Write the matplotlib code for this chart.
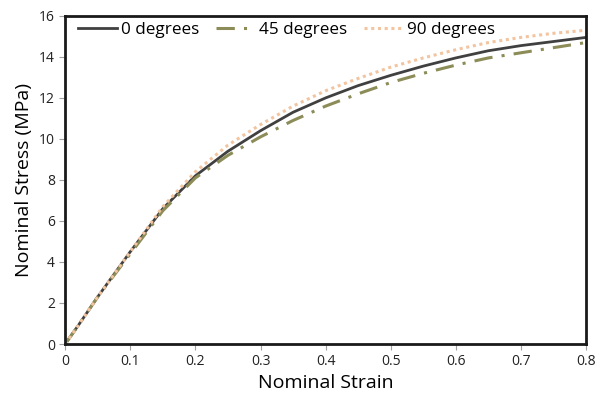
import numpy as np
import matplotlib
matplotlib.use("Agg")
import matplotlib.pyplot as plt

plt.rcParams["font.family"] = ["Open Sans", "DejaVu Sans"]

strain = [0, 0.02, 0.05, 0.1, 0.15, 0.2, 0.25, 0.3, 0.35, 0.4, 0.45,
          0.5, 0.55, 0.6, 0.65, 0.7, 0.75, 0.8]
stress_0 = [0, 0.9, 2.3, 4.5, 6.6, 8.2, 9.4, 10.4, 11.3, 12.0, 12.6,
            13.1, 13.55, 13.95, 14.3, 14.55, 14.75, 14.95]
stress_45 = [0, 0.9, 2.3, 4.4, 6.5, 8.1, 9.2, 10.1, 10.9, 11.6, 12.2,
             12.75, 13.2, 13.6, 13.95, 14.2, 14.45, 14.7]
stress_90 = [0, 0.9, 2.3, 4.5, 6.7, 8.4, 9.7, 10.7, 11.6, 12.35, 12.95,
             13.5, 13.95, 14.35, 14.7, 14.95, 15.15, 15.3]

fig = plt.figure(figsize=(5.98, 3.97), dpi=100)
ax = fig.add_axes([0.109, 0.1335, 0.871, 0.8265])

ax.plot(strain, stress_0, color="#404040", lw=2.0, label="0 degrees")
ax.plot(strain, stress_45, color="#8c8c58", lw=2.2, linestyle=(0, (6, 3, 1, 3)),
        label="45 degrees")
ax.plot(strain, stress_90, color="#f2c4a0", lw=2.2, linestyle=(0, (1, 1.2)),
        label="90 degrees")

ax.set_xlim(0, 0.8)
ax.set_ylim(0, 16)
ax.set_xticks(np.arange(0, 0.81, 0.1))
ax.set_xticklabels(["0", "0.1", "0.2", "0.3", "0.4", "0.5", "0.6", "0.7", "0.8"])
ax.set_yticks(np.arange(0, 17, 2))
ax.tick_params(direction="out", length=4, color="#a0a0a0", labelsize=10,
               labelcolor="#222222")
for s in ax.spines.values():
    s.set_linewidth(2)
    s.set_color("#1a1a1a")

ax.set_xlabel("Nominal Strain", fontsize=14, labelpad=3)
ax.set_ylabel("Nominal Stress (MPa)", fontsize=14, labelpad=4)

ax.legend(loc="upper left", ncol=3, frameon=False, fontsize=12.3,
          bbox_to_anchor=(0.005, 1.012), handlelength=2.3, handletextpad=0.2,
          columnspacing=1.0, borderaxespad=0.2)

fig.savefig("out.png", dpi=100)
